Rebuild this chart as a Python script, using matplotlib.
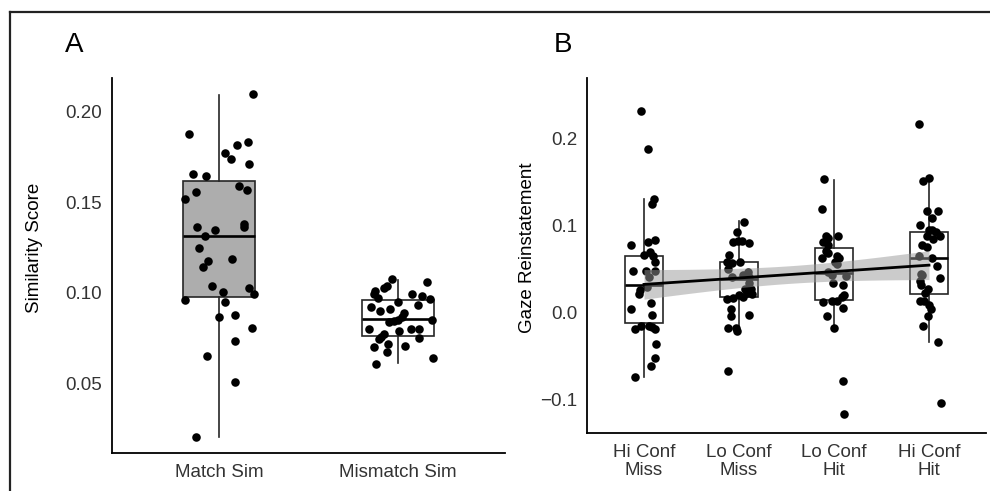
import numpy as np
import matplotlib
matplotlib.use("Agg")
import matplotlib.pyplot as plt
from matplotlib.lines import Line2D

plt.rcParams["font.family"] = ["Liberation Sans", "DejaVu Sans"]

# ---- Panel A: similarity scores ----
sim_labels = ["Match Sim", "Mismatch Sim"]
match_sim = [0.2096, 0.1875, 0.1834, 0.1814, 0.1772, 0.1739, 0.1709, 0.1657, 0.1646,
             0.1588, 0.1569, 0.1558, 0.1516, 0.1363, 0.1345, 0.1378, 0.1365, 0.1313,
             0.1245, 0.1175, 0.1186, 0.1144, 0.1039, 0.1028, 0.1002, 0.0991, 0.0960,
             0.0949, 0.0867, 0.0875, 0.0805, 0.0735, 0.0649, 0.0508, 0.0203]
match_jitter = [0.190, -0.167, 0.160, 0.099, 0.035, 0.067, 0.169, -0.149, -0.074,
                0.112, 0.154, -0.130, -0.191, -0.123, -0.022, 0.138, 0.138, -0.078,
                -0.115, -0.060, 0.071, -0.093, -0.041, 0.169, 0.024, 0.195, -0.194,
                0.032, -0.002, 0.089, 0.186, 0.091, -0.069, 0.088, -0.130]
mismatch_sim = [0.1076, 0.1057, 0.1037, 0.1028, 0.1011, 0.0991, 0.0969, 0.0993, 0.0982,
                0.0964, 0.0947, 0.0934, 0.0919, 0.0901, 0.0910, 0.0886, 0.0867, 0.0836,
                0.0842, 0.0849, 0.0849, 0.0799, 0.0788, 0.0801, 0.0799, 0.0770, 0.0757,
                0.0744, 0.0748, 0.0717, 0.0702, 0.0706, 0.0671, 0.0606, 0.0638]
mismatch_jitter = [-0.033, 0.162, -0.061, -0.078, -0.126, -0.134, -0.109, 0.078, 0.136,
                   0.178, 0.0, 0.115, -0.152, -0.100, -0.041, 0.037, 0.022, -0.048,
                   -0.022, 0.002, 0.194, -0.163, 0.004, 0.071, 0.121, -0.078, -0.096,
                   -0.108, 0.121, -0.056, -0.134, 0.043, -0.061, -0.124, 0.195]
# box summaries as drawn (q1, median, q3, whisker ends)
sim_q1 = [0.0978, 0.0761]
sim_med = [0.1313, 0.0853]
sim_q3 = [0.1617, 0.0960]
sim_lo = [0.0204, 0.0612]
sim_hi = [0.2092, 0.1070]

# ---- Panel B: gaze reinstatement ----
gaze_labels = ["Hi Conf\nMiss", "Lo Conf\nMiss", "Lo Conf\nHit", "Hi Conf\nHit"]
hi_conf_miss = [0.2317, 0.1874, 0.1307, 0.1247, 0.0773, 0.0811, 0.0837, 0.0662, 0.0696,
                0.0650, 0.0585, 0.0482, 0.0482, 0.0482, 0.0413, 0.0298, 0.0260, 0.0214,
                0.0046, 0.0108, -0.0026, -0.0190, -0.0153, -0.0153, -0.0160, -0.0190,
                -0.0362, -0.0523, -0.0608, -0.0737]
hi_conf_miss_jit = [-0.029, 0.047, 0.103, 0.089, -0.135, 0.040, 0.121, -0.002, 0.061,
                    0.093, 0.114, -0.114, 0.023, 0.114, 0.051, 0.034, -0.037, -0.055,
                    -0.135, 0.076, 0.079, -0.097, -0.029, 0.051, 0.086, 0.114, 0.128,
                    0.114, 0.076, -0.097]
lo_conf_miss = [0.1044, 0.0931, 0.0814, 0.0819, 0.0826, 0.0803, 0.0658, 0.0585, 0.0567,
                0.0576, 0.0501, 0.0472, 0.0413, 0.0432, 0.0404, 0.0337, 0.0272, 0.0275,
                0.0222, 0.0203, 0.0183, 0.0211, 0.0172, 0.0157, 0.0039, -0.0038, -0.0029,
                -0.0172, -0.0181, -0.0210, -0.0669]
lo_conf_miss_jit = [0.052, -0.019, -0.059, -0.014, 0.028, 0.102, -0.105, -0.122, -0.069,
                    0.013, -0.115, 0.097, -0.069, 0.047, 0.102, 0.105, 0.060, 0.126,
                    0.088, 0.000, 0.042, 0.134, -0.064, -0.129, -0.087, -0.087, 0.102,
                    -0.119, -0.029, -0.019, -0.119]
lo_conf_hit = [0.1528, 0.1192, 0.0880, 0.0860, 0.0876, 0.0814, 0.0776, 0.0708, 0.0681,
               0.0624, 0.0650, 0.0633, 0.0585, 0.0559, 0.0463, 0.0432, 0.0421, 0.0337,
               0.0318, 0.0203, 0.0177, 0.0126, 0.0138, 0.0138, 0.0050, -0.0041, -0.0179,
               -0.0783, -0.1158]
lo_conf_hit_jit = [-0.102, -0.129, -0.087, -0.060, 0.039, -0.113, -0.060, -0.084, -0.060,
                   -0.129, 0.035, 0.053, 0.011, 0.035, -0.060, -0.018, 0.123, -0.014,
                   0.092, 0.108, 0.081, -0.113, -0.024, 0.028, 0.098, -0.074, 0.0,
                   0.095, 0.105]
hi_conf_hit = [0.2168, 0.1510, 0.1545, 0.1172, 0.1169, 0.1083, 0.1006, 0.0948, 0.0943,
               0.0920, 0.0885, 0.0876, 0.0847, 0.0776, 0.0750, 0.0656, 0.0630, 0.0532,
               0.0447, 0.0432, 0.0394, 0.0358, 0.0323, 0.0272, 0.0222, 0.0131, 0.0131,
               0.0085, 0.0039, -0.0038, -0.0147, -0.0339, -0.1039]
hi_conf_hit_jit = [-0.105, -0.068, -0.005, -0.024, 0.098, 0.034, -0.095, -0.002, 0.034,
                   0.074, 0.112, -0.024, 0.045, -0.074, -0.024, -0.108, 0.028, 0.089,
                   -0.086, -0.074, 0.112, -0.100, -0.079, -0.014, -0.042, -0.093, -0.049,
                   -0.003, 0.016, -0.007, -0.068, 0.092, 0.126]
gaze_q1 = [-0.0118, 0.0183, 0.0146, 0.0214]
gaze_med = [0.0314, 0.0390, 0.0455, 0.0627]
gaze_q3 = [0.0654, 0.0578, 0.0739, 0.0920]
gaze_lo = [-0.0734, -0.0187, -0.0179, -0.0333]
gaze_hi = [0.1304, 0.1057, 0.1522, 0.1541]

TICK_COLOR = "#333333"
FS = 13.5


def draw_boxes(ax, q1, med, q3, lo, hi, fills):
	stats = [
		{"q1": a, "med": m, "q3": b, "whislo": l, "whishi": h, "fliers": []}
		for a, m, b, l, h in zip(q1, med, q3, lo, hi)
	]
	bp = ax.bxp(
		stats,
		positions=np.arange(1, len(stats) + 1),
		widths=0.4,
		showcaps=False,
		showfliers=False,
		patch_artist=True,
		boxprops={"linewidth": 1.2, "edgecolor": "#262626"},
		whiskerprops={"linewidth": 1.2, "color": "#262626"},
		medianprops={"linewidth": 1.9, "color": "black"},
		zorder=1,
	)
	for patch, fc in zip(bp["boxes"], fills):
		patch.set_facecolor(fc)


def draw_points(ax, groups, jitters):
	for i, (vals, jit) in enumerate(zip(groups, jitters)):
		ax.scatter(i + 1 + np.array(jit), vals, s=38, color="black", linewidths=0, zorder=3)


def style_axis(ax, labels):
	ax.spines[["top", "right"]].set_visible(False)
	for side in ["left", "bottom"]:
		ax.spines[side].set_linewidth(1.3)
	ax.set_xticks(np.arange(1, len(labels) + 1))
	ax.set_xticklabels(labels, linespacing=1.1)
	ax.set_xlim(0.4, len(labels) + 0.6)
	ax.tick_params(length=0, labelsize=FS, labelcolor=TICK_COLOR)
	ax.tick_params(axis="y", pad=7)
	ax.tick_params(axis="x", pad=8)


fig = plt.figure(figsize=(9.9, 4.91), dpi=100)

# Panel A
axA = fig.add_axes([112 / 990, 1 - 453 / 491, 393 / 990, 375 / 491])
draw_boxes(axA, sim_q1, sim_med, sim_q3, sim_lo, sim_hi, ["#adadad", "white"])
draw_points(axA, [match_sim, mismatch_sim], [match_jitter, mismatch_jitter])
style_axis(axA, sim_labels)
axA.set_ylim(0.0114, 0.2186)
axA.set_yticks([0.05, 0.10, 0.15, 0.20])
axA.set_yticklabels(["0.05", "0.10", "0.15", "0.20"])
axA.set_ylabel("Similarity Score", fontsize=FS, va="center")
axA.yaxis.set_label_coords((35 - 112) / 393, (453 - 247.5) / 375)

# Panel B
axB = fig.add_axes([587 / 990, 1 - 433 / 491, 399 / 990, 355 / 491])
groups = [hi_conf_miss, lo_conf_miss, lo_conf_hit, hi_conf_hit]
jitters = [hi_conf_miss_jit, lo_conf_miss_jit, lo_conf_hit_jit, hi_conf_hit_jit]
draw_boxes(axB, gaze_q1, gaze_med, gaze_q3, gaze_lo, gaze_hi, ["white"] * 4)
draw_points(axB, groups, jitters)

# linear trend across the ordered conditions with a 95% band
x_all = np.concatenate([np.full(len(g), i + 1) for i, g in enumerate(groups)])
y_all = np.concatenate(groups)
slope, intercept = np.polyfit(x_all, y_all, 1)
resid = y_all - (intercept + slope * x_all)
n = len(y_all)
s = np.sqrt(np.sum(resid ** 2) / (n - 2))
sxx = np.sum((x_all - x_all.mean()) ** 2)
xs = np.linspace(1, 4, 80)
fit = intercept + slope * xs
se = s * np.sqrt(1 / n + (xs - x_all.mean()) ** 2 / sxx)
axB.fill_between(xs, fit - 1.98 * se, fit + 1.98 * se, color="#999999", alpha=0.5,
                 linewidth=0, zorder=4)
axB.plot(xs, fit, color="black", linewidth=2.0, zorder=5)

style_axis(axB, gaze_labels)
axB.set_ylim(-0.138, 0.2692)
axB.set_yticks([-0.1, 0.0, 0.1, 0.2])
axB.set_yticklabels(["\u22120.1", "0.0", "0.1", "0.2"])
axB.set_ylabel("Gaze Reinstatement", fontsize=FS, va="center")
axB.yaxis.set_label_coords((528 - 587) / 399, (433 - 247.5) / 355)

# panel letters and outer frame
fig.text(74 / 990, 1 - 45 / 491, "A", fontsize=20, ha="center", va="center")
fig.text(563 / 990, 1 - 45 / 491, "B", fontsize=20, ha="center", va="center")
fig.add_artist(Line2D([10 / 990, 1.0], [1 - 12 / 491] * 2, color="#222222", linewidth=1.6))
fig.add_artist(Line2D([10 / 990] * 2, [0.0, 1 - 12 / 491], color="#222222", linewidth=1.6))

fig.savefig("out.png", dpi=100)
